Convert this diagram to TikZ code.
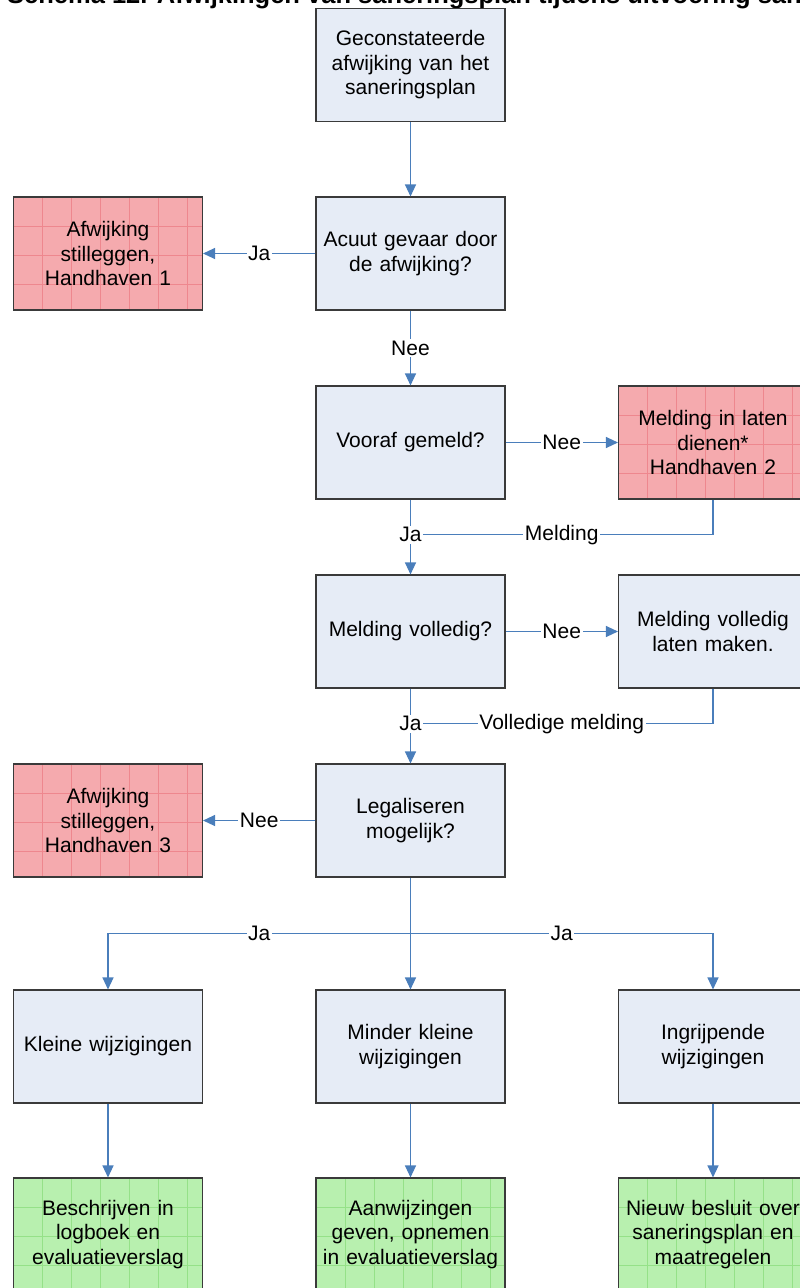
\documentclass[tikz,border=0pt]{standalone}
\usepackage{fontspec}
\setmainfont{Liberation Sans}
\usetikzlibrary{arrows.meta,calc}

\definecolor{boxfill}{HTML}{E6ECF6}
\definecolor{boxline}{HTML}{3A3A3A}
\definecolor{redfill}{HTML}{F5AAAE}
\definecolor{redgrid}{HTML}{EE878E}
\definecolor{greenfill}{HTML}{B8F0AF}
\definecolor{greengrid}{HTML}{95E188}
\definecolor{connblue}{HTML}{4A7EBB}

\tikzset{
  box/.style={draw=boxline, line width=1.1pt, fill=boxfill,
    minimum width=189pt, minimum height=113pt, inner sep=0pt,
    text width=187pt, align=center,
    font=\fontsize{21}{24.5}\selectfont},
  gridded/.style={path picture={
    \foreach \i in {1,...,6}{
      \draw[#1, line width=0.8pt]
        ([xshift=\i*29pt]path picture bounding box.north west) --
        ([xshift=\i*29pt]path picture bounding box.south west);}
    \foreach \j in {1,...,3}{
      \draw[#1, line width=0.8pt]
        ([yshift=-\j*29pt]path picture bounding box.north west) --
        ([yshift=-\j*29pt]path picture bounding box.north east);}
  }},
  redbox/.style={box, fill=redfill, gridded=redgrid},
  greenbox/.style={box, fill=greenfill, gridded=greengrid},
  conn/.style={draw=connblue, line width=1.2pt},
  arr/.style={conn, -{Triangle[length=12pt,width=11pt]}},
  lbl/.style={fill=white, inner sep=1.5pt,
    font=\fontsize{21}{24.5}\selectfont},
}

\begin{document}
\begin{tikzpicture}[x=1pt,y=-1pt]
\useasboundingbox (0,0) rectangle (800,1288);
\clip (0,0) rectangle (800,1288);
\fill[white] (0,0) rectangle (800,1288);

% heading, running past the top and right edges
\node[anchor=base west, inner sep=0pt,
      font=\bfseries\fontsize{25.5}{30}\selectfont] (title) at (7,3)
  {Schema 12. Afwijkingen van saneringsplan tijdens uitvoering sanering};

% boxes
\node[box] (g1) at (410.5,65) {Geconstateerde\\afwijking van het\\saneringsplan};
\node[box] (a1) at (410.5,253.5) {Acuut gevaar door\\de afwijking?};
\node[redbox] (r1) at (108,253.5) {Afwijking\\stilleggen,\\Handhaven 1};
\node[box] (v1) at (410.5,442.5) {Vooraf gemeld?};
\node[redbox] (r2) at (713,442.5) {Melding in laten\\dienen*\\Handhaven 2};
\node[box] (m1) at (410.5,631.5) {Melding volledig?};
\node[box] (m2) at (713,631.5) {Melding volledig\\laten maken.};
\node[box] (l1) at (410.5,820.5) {Legaliseren\\mogelijk?};
\node[redbox] (r3) at (108,820.5) {Afwijking\\stilleggen,\\Handhaven 3};
\node[box] (k1) at (108,1046.5) {Kleine wijzigingen};
\node[box] (k2) at (410.5,1046.5) {Minder kleine\\wijzigingen};
\node[box] (k3) at (713,1046.5) {Ingrijpende\\wijzigingen};
\node[greenbox] (e1) at (108,1234.5) {Beschrijven in\\logboek en\\evaluatieverslag};
\node[greenbox] (e2) at (410.5,1234.5) {Aanwijzingen\\geven, opnemen\\in evaluatieverslag};
\node[greenbox] (e3) at (713,1234.5) {Nieuw besluit over\\saneringsplan en\\maatregelen};

% junction points
\coordinate (j1) at ($(v1.south)!0.47!(m1.north)$);
\coordinate (j2) at ($(m1.south)!0.47!(l1.north)$);
\coordinate (j3) at ($(l1.south)!0.5!(k2.north)$);

% connectors
\draw[arr] (g1) -- (a1);
\draw[arr] (a1) -- node[lbl]{Ja} (r1);
\draw[arr] (a1) -- node[lbl]{Nee} (v1);
\draw[arr] (v1) -- node[lbl]{Nee} (r2);
\draw[conn] (r2.south) |- node[lbl, pos=0.75]{Melding} (j1);
\draw[arr] (v1) -- node[lbl, pos=0.47]{Ja} (m1);
\draw[arr] (m1) -- node[lbl]{Nee} (m2);
\draw[conn] (m2.south) |- node[lbl, pos=0.75]{Volledige melding} (j2);
\draw[arr] (m1) -- node[lbl, pos=0.47]{Ja} (l1);
\draw[arr] (l1) -- node[lbl]{Nee} (r3);
\draw[arr] (l1) -- (k2);
\draw[arr] (j3) -| node[lbl, pos=0.25]{Ja} (k1);
\draw[arr] (j3) -| node[lbl, pos=0.25]{Ja} (k3);
\draw[arr] (k1) -- (e1);
\draw[arr] (k2) -- (e2);
\draw[arr] (k3) -- (e3);
\end{tikzpicture}
\end{document}
